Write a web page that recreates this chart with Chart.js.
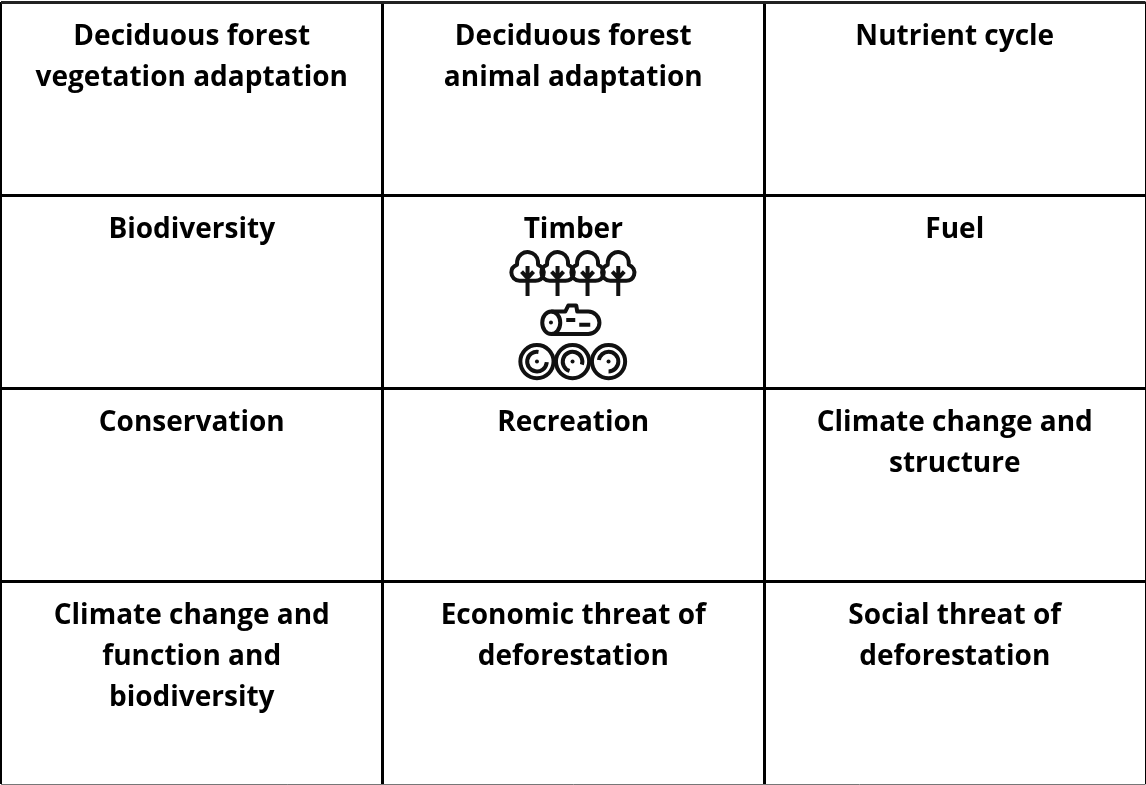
<!DOCTYPE html>
<html>
<head>
<meta charset="utf-8">
<style>
    html, body { margin: 0; padding: 0; background: #fff; }
    canvas { display: block; }
</style>
<script src="https://cdn.jsdelivr.net/npm/chart.js@4"></script>
</head>
<body>
<canvas id="grid" width="1146" height="785"></canvas>
<script>
// Cell titles, one line per entry, left to right and top to bottom
const cellTitles = [
    ['Deciduous forest', 'vegetation adaptation'],
    ['Deciduous forest', 'animal adaptation'],
    ['Nutrient cycle'],
    ['Biodiversity'],
    ['Timber'],
    ['Fuel'],
    ['Conservation'],
    ['Recreation'],
    ['Climate change and', 'structure'],
    ['Climate change and', 'function and', 'biodiversity'],
    ['Economic threat of', 'deforestation'],
    ['Social threat of', 'deforestation']
];
const columnEdges = [0, 1, 2, 3];
const rowEdges = [0, 1, 2, 3, 4.05];
const columnCount = 3;
const iconCell = 'Timber';

const cellPoints = cellTitles.map((title, i) => ({
    x: (i % columnCount) + 0.5,
    y: Math.floor(i / columnCount)
}));

function drawTree(c, x) {
    // crown is three lobes, the trunk goes through it
    c.beginPath();
    c.arc(x - 8, 272.5, 8.2, Math.PI * 0.5, Math.PI * 1.4);
    c.arc(x, 262.5, 10.5, Math.PI * 1.05, Math.PI * 1.95);
    c.arc(x + 8, 272.5, 8.2, Math.PI * 1.6, Math.PI * 0.5);
    c.closePath();
    c.stroke();
    c.beginPath();
    c.moveTo(x, 266);
    c.lineTo(x, 296);
    c.moveTo(x - 6, 271.5);
    c.lineTo(x, 278);
    c.lineTo(x + 6, 271.5);
    c.stroke();
}

function drawLog(c) {
    c.beginPath();
    c.moveTo(552, 311.5);
    c.lineTo(566, 311.5);
    c.lineTo(569, 305.5);
    c.lineTo(577, 305.5);
    c.lineTo(578, 311.5);
    c.lineTo(589, 311.5);
    c.arc(589, 322.7, 11.2, -Math.PI / 2, Math.PI / 2);
    c.lineTo(552, 334);
    c.stroke();
    c.beginPath();
    c.ellipse(552, 322.7, 9, 11.2, 0, 0, Math.PI * 2);
    c.stroke();
    c.beginPath();
    c.arc(551.7, 322.5, 2, 0, Math.PI * 2);
    c.fill();
    c.beginPath();
    c.moveTo(567, 320);
    c.lineTo(576, 320);
    c.moveTo(580, 324.7);
    c.lineTo(591, 324.7);
    c.stroke();
}

function drawRing(c, x, start, end) {
    c.beginPath();
    c.arc(x, 361.5, 16.6, 0, Math.PI * 2);
    c.stroke();
    c.beginPath();
    c.arc(x, 361.5, 9.8, start, end, true);
    c.stroke();
    c.beginPath();
    c.arc(x, 361.5, 2, 0, Math.PI * 2);
    c.fill();
}

const cellText = {
    id: 'cellText',
    afterDatasetsDraw(chart) {
        const c = chart.ctx;
        const meta = chart.getDatasetMeta(0);
        c.save();
        c.fillStyle = '#000';
        c.font = 'bold 28px "Open Sans", sans-serif';
        c.textAlign = 'center';
        c.textBaseline = 'alphabetic';
        cellTitles.forEach((lines, i) => {
            const p = meta.data[i];
            lines.forEach((line, n) => {
                c.fillText(line, p.x, p.y + 43 + n * 41);
            });
        });
        c.restore();
    }
};

const timberIcons = {
    id: 'timberIcons',
    afterDatasetsDraw(chart) {
        const c = chart.ctx;
        const p = chart.getDatasetMeta(0).data[cellTitles.findIndex(t => t[0] === iconCell)];
        c.save();
        // icon coordinates are page pixels around the middle of the cell
        c.translate(p.x - 574, p.y - 195);
        c.strokeStyle = '#111';
        c.fillStyle = '#111';
        c.lineWidth = 4;
        c.lineJoin = 'round';
        [528.3, 558.3, 588.3, 619].forEach(x => drawTree(c, x));
        drawLog(c);
        drawRing(c, 537.7, -Math.PI * 0.45, Math.PI * 0.02);
        drawRing(c, 573.3, Math.PI * 0.1, Math.PI * 0.6);
        drawRing(c, 609.3, Math.PI * 0.5, Math.PI * 1.05);
        c.restore();
    }
};

new Chart(document.getElementById('grid').getContext('2d'), {
    type: 'scatter',
    data: {
        datasets: [{
            data: cellPoints,
            pointRadius: 0
        }]
    },
    options: {
        responsive: false,
        animation: false,
        layout: { padding: { left: 1, right: 0.5, top: 2, bottom: 1 } },
        plugins: {
            legend: { display: false },
            tooltip: { enabled: false }
        },
        scales: {
            x: {
                min: 0,
                max: 3,
                afterBuildTicks: axis => { axis.ticks = columnEdges.map(v => ({ value: v })); },
                border: { display: false },
                ticks: { display: false },
                grid: {
                    color: '#000',
                    lineWidth: ctx => (ctx.index === 1 || ctx.index === 2) ? 3 : 2,
                    drawTicks: false
                }
            },
            y: {
                reverse: true,
                min: 0,
                max: 4.05,
                afterBuildTicks: axis => { axis.ticks = rowEdges.map(v => ({ value: v })); },
                border: { display: false },
                ticks: { display: false },
                grid: {
                    color: ctx => ctx.index === 4 ? '#777' : (ctx.index === 0 ? '#222' : '#000'),
                    lineWidth: ctx => ctx.index === 4 ? 1 : 3,
                    drawTicks: false
                }
            }
        }
    },
    plugins: [cellText, timberIcons]
});
</script>
</body>
</html>
